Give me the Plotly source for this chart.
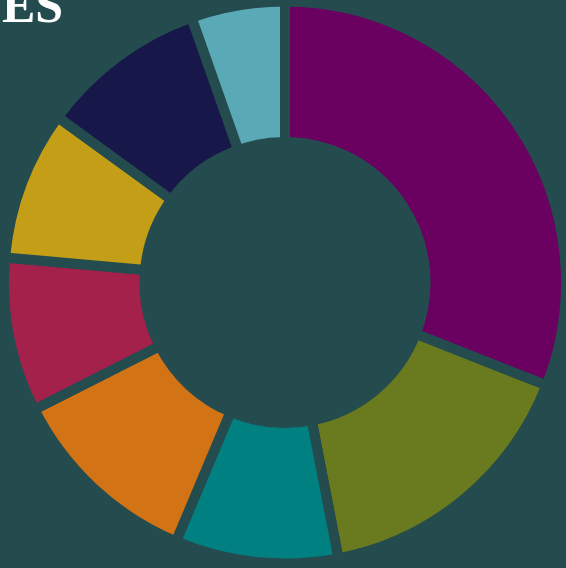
import plotly.graph_objects as go

categories = ["A", "B", "C", "D", "E", "F", "G", "H"]
values = [31.0, 16.0, 9.4, 11.2, 8.9, 8.6, 9.6, 5.4]
colors = ["#6a0060", "#6a7a1e", "#008080", "#d27316", "#a4214c", "#c49e17", "#17174a", "#5aa9b6"]
title_text = "ES"

bg = "#244b4e"

fig = go.Figure(go.Pie(
    labels=categories,
    values=values,
    hole=0.5,
    sort=False,
    direction="clockwise",
    rotation=0,
    textinfo="none",
    marker=dict(colors=colors, line=dict(color=bg, width=10)),
    showlegend=False,
))

fig.add_annotation(
    text="<b>" + title_text + "</b>", x=-4 / 562, y=1 - 35 / 565, xref="paper", yref="paper",
    xanchor="left", yanchor="bottom", showarrow=False,
    font=dict(family="Liberation Serif", size=50, color="white"),
)

fig.update_layout(
    width=566, height=568,
    margin=dict(l=4, r=0, t=0, b=3),
    paper_bgcolor=bg, plot_bgcolor=bg,
)

fig.write_html(
    "out.html",
    config={"displayModeBar": False},
    post_script="document.body.style.margin='0';document.body.style.background='" + bg + "';",
)
